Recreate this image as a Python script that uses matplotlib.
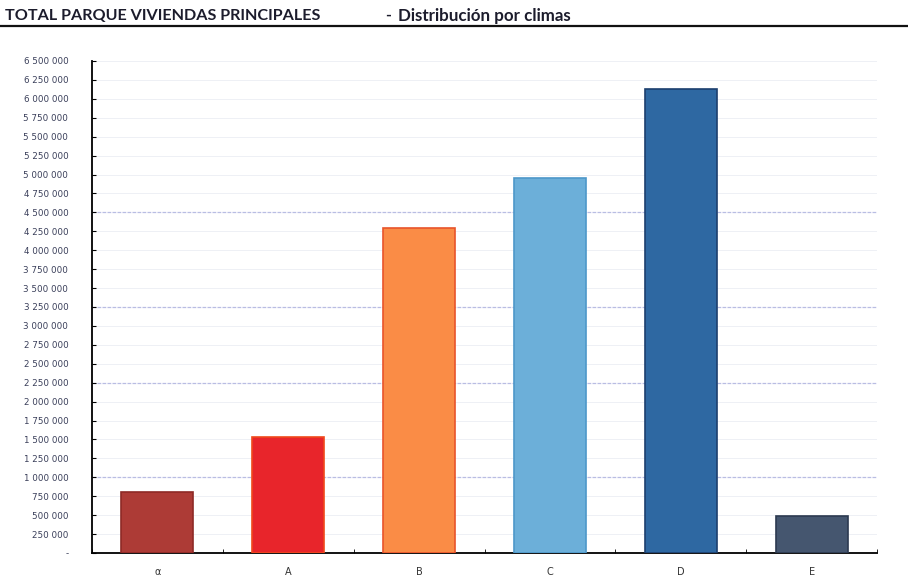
import matplotlib
matplotlib.use("Agg")
import matplotlib.pyplot as plt
import numpy as np

plt.rcParams['font.family'] = ['Lato', 'DejaVu Sans']

# climate zones and number of main dwellings
zones = ['α', 'A', 'B', 'C', 'D', 'E']
dwellings = [805000, 1533000, 4290000, 4960000, 6125000, 490000]
colors = ['#ad3b36', '#e8252b', '#fa8c46', '#6cafd9', '#2e68a2', '#45566f']
edges = ['#8e2a26', '#f0491c', '#e8542a', '#4d97c9', '#1d3f6e', '#2c3a50']

fig = plt.figure(figsize=(9.08, 5.77), dpi=100)
ax = fig.add_axes([0.1013, 0.0416, 0.8647, 0.8527])

x = np.arange(len(zones))
ax.bar(x, dwellings, width=0.55, color=colors, edgecolor=edges, linewidth=1.2, zorder=3)

ax.set_xlim(-0.5, len(zones) - 0.5)
ax.set_ylim(0, 6500000)

yticks = np.arange(0, 6500001, 250000)
ax.set_yticks(yticks)
ax.set_yticklabels(['-' if v == 0 else f"{v:,}".replace(',', ' ') for v in yticks],
                   fontsize=6.3, color='#3a3f5a', family=['DejaVu Sans'])
ax.set_xticks(x)
ax.set_xticklabels(zones, fontsize=7, color='#333333', family=['DejaVu Sans'])
ax.set_xticks(np.arange(-0.5, len(zones)), minor=True)
ax.tick_params(axis='x', which='major', length=0, pad=10)
ax.tick_params(axis='x', which='minor', length=3, direction='in')
ax.tick_params(axis='y', length=3, direction='in', pad=17)

# faint grid, a few lines printed darker
for v in yticks[1:]:
    strong = v in (1000000, 2250000, 3250000, 4500000)
    ax.axhline(v, color='#b9bde3' if strong else '#eef0f5',
               linewidth=0.9 if strong else 0.7,
               linestyle=(0, (3, 1)) if strong else '-', zorder=1)

for s in ['top', 'right']:
    ax.spines[s].set_visible(False)
ax.spines['left'].set_linewidth(1.3)
ax.spines['bottom'].set_linewidth(1.3)

fig.text(0.006, 0.972, 'TOTAL PARQUE VIVIENDAS PRINCIPALES', fontsize=11.6,
         fontweight='bold', color='#1c1c2c', va='center')
fig.text(0.424, 0.972, '-', fontsize=11.6, fontweight='bold', color='#1c1c2c', va='center')
fig.text(0.438, 0.972, 'Distribución por climas', fontsize=12.2,
         fontweight='bold', color='#1c1c2c', va='center')
fig.add_artist(plt.Line2D([0.0, 1.0], [0.955, 0.955], color='#111111',
                          linewidth=1.6, transform=fig.transFigure))

fig.savefig('out.png', dpi=100)
